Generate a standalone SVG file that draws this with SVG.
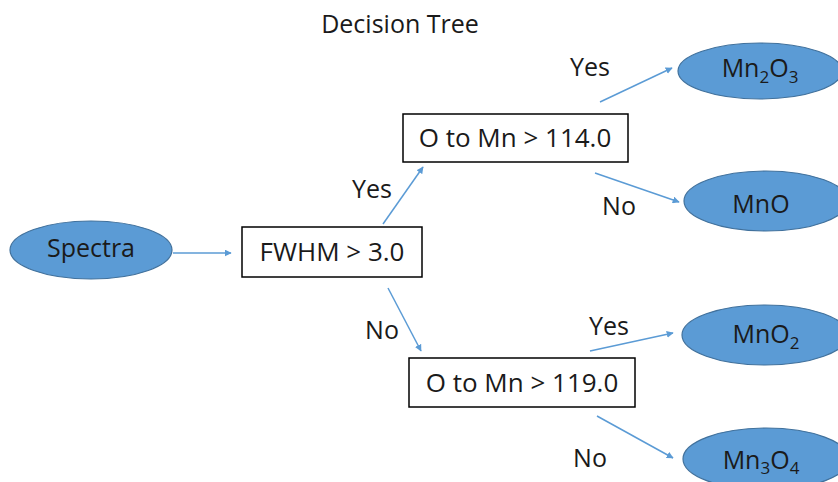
<svg xmlns="http://www.w3.org/2000/svg" width="838" height="482" viewBox="0 0 838 482">
<defs>
<marker id="arr" viewBox="0 0 10 10" refX="9" refY="5" markerWidth="7" markerHeight="7" orient="auto" markerUnits="userSpaceOnUse">
<path d="M0,0 L10,5 L0,10 z" fill="#5B9BD5"/>
</marker>
</defs>
<style>
text{font-family:"Open Sans","Liberation Sans",sans-serif;font-size:25px;fill:#1a1a1a;}
.box{fill:#fff;stroke:#000;stroke-width:1.5;}
.ell{fill:#5B9BD5;stroke:#41719C;stroke-width:1.2;}
.c{stroke:#5B9BD5;stroke-width:1.5;fill:none;marker-end:url(#arr);}
.bt{font-size:26px;}
.sub{font-size:17px;}
</style>
<rect width="838" height="482" fill="#fff"/>
<text x="400" y="33" text-anchor="middle">Decision Tree</text>
<g id="connectors">
<line class="c" x1="173" y1="253" x2="231" y2="253"/>
<line class="c" x1="383" y1="224" x2="423" y2="167"/>
<line class="c" x1="388" y1="288" x2="421" y2="351"/>
<line class="c" x1="600" y1="102" x2="672" y2="68"/>
<line class="c" x1="595" y1="173" x2="679" y2="202"/>
<line class="c" x1="590" y1="351" x2="673" y2="333"/>
<line class="c" x1="597" y1="416" x2="673" y2="458"/>
</g>
<g id="labels">
<text x="372" y="198" text-anchor="middle">Yes</text>
<text x="382" y="339" text-anchor="middle">No</text>
<text x="590" y="76" text-anchor="middle">Yes</text>
<text x="619" y="215" text-anchor="middle">No</text>
<text x="609" y="335" text-anchor="middle">Yes</text>
<text x="590" y="467" text-anchor="middle">No</text>
</g>
<g id="spectra">
<ellipse class="ell" cx="91" cy="250" rx="81" ry="29"/>
<text x="91" y="257" text-anchor="middle">Spectra</text>
</g>
<g id="fwhm">
<rect class="box" x="242" y="227" width="180" height="50"/>
<text class="bt" x="332" y="261" text-anchor="middle">FWHM &gt; 3.0</text>
</g>
<g id="omn114">
<rect class="box" x="403" y="114" width="225" height="48"/>
<text class="bt" x="515" y="147" text-anchor="middle">O to Mn &gt; 114.0</text>
</g>
<g id="omn119">
<rect class="box" x="409" y="358" width="226" height="49"/>
<text class="bt" x="522" y="392" text-anchor="middle">O to Mn &gt; 119.0</text>
</g>
<g id="mn2o3">
<ellipse class="ell" cx="760" cy="71" rx="82" ry="28"/>
<text x="760" y="77" text-anchor="middle">Mn<tspan class="sub" dy="6">2</tspan><tspan dy="-6">O</tspan><tspan class="sub" dy="6">3</tspan></text>
</g>
<g id="mno">
<ellipse class="ell" cx="766" cy="201" rx="82" ry="30"/>
<text x="761" y="213" text-anchor="middle">MnO</text>
</g>
<g id="mno2">
<ellipse class="ell" cx="765" cy="335" rx="83" ry="30"/>
<text x="766" y="343" text-anchor="middle">MnO<tspan class="sub" dy="6">2</tspan></text>
</g>
<g id="mn3o4">
<ellipse class="ell" cx="766" cy="459" rx="83" ry="31"/>
<text x="761" y="469" text-anchor="middle">Mn<tspan class="sub" dy="5">3</tspan><tspan dy="-5">O</tspan><tspan class="sub" dy="5">4</tspan></text>
</g>
</svg>
